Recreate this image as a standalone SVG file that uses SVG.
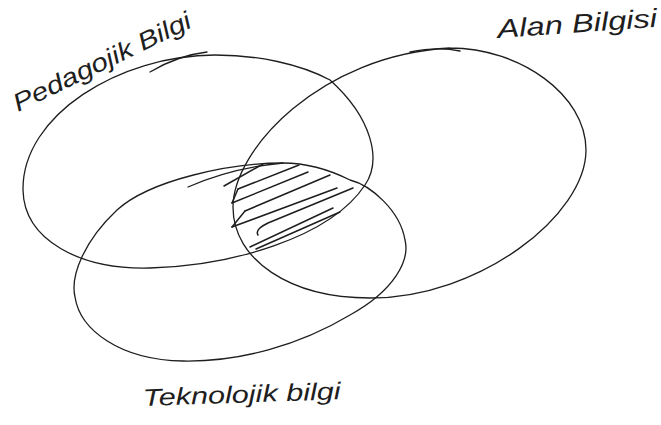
<svg xmlns="http://www.w3.org/2000/svg" width="661" height="425" viewBox="0 0 661 425">
<style>
.c{fill:none;stroke:#1e1e1e;stroke-width:1.3;stroke-linecap:round;stroke-linejoin:round}
.h{fill:none;stroke:#1e1e1e;stroke-width:1.5;stroke-linecap:round;stroke-linejoin:round}
.t{font-family:"Liberation Sans",Arial,sans-serif;font-style:italic;fill:#1e1e1e}
</style>
<rect width="661" height="425" fill="#ffffff"/>
<g id="pedagojik">
<path class="c" d="M 330,80 C 300,64 258,55 215,55 C 120,55 22,115 23,190 C 24,240 80,270 150,268 C 230,266 330,238 365,185 C 382,160 372,118 330,80"/>
<path class="c" d="M 150,72 C 170,60 190,54 207,52"/>
<text class="t" font-size="25" textLength="195" lengthAdjust="spacingAndGlyphs" transform="translate(18,112) rotate(-26)">Pedagojik Bilgi</text>
</g>
<g id="alan">
<path class="c" d="M 450,48 C 520,48 586,95 586,150 C 586,215 480,298 370,298 C 290,298 233,260 233,207 C 233,150 320,55 450,48"/>
<path class="c" d="M 410,52 C 425,49 445,48 460,51"/>
<text class="t" font-size="26" textLength="160" lengthAdjust="spacingAndGlyphs" transform="translate(498,38) rotate(-4)">Alan Bilgisi</text>
</g>
<g id="teknolojik">
<path class="c" d="M 283,163 C 230,163 150,180 117,210 C 85,240 70,275 75,297 C 80,330 120,360 183,361 C 240,362 300,345 350,315 C 395,290 410,260 405,240 C 400,210 370,185 350,180 C 330,170 305,163 283,163"/>
<path class="c" d="M 188,187 C 215,175 250,166 283,163"/>
<text class="t" font-size="24" textLength="198" lengthAdjust="spacingAndGlyphs" transform="translate(143,406) rotate(-2)">Teknolojik bilgi</text>
</g>
<g id="hatch">
<path class="h" d="M 224,186 L 263,164 M 238,189 L 299,165 M 232,203 L 308,172 M 245,211 L 330,175 M 232,227 L 337,188 M 258,235 C 255,230 262,226 268,223 L 353,188 M 250,247 L 333,208 M 256,249 L 340,212"/>
<path class="h" d="M 232,203 L 238,189 M 232,227 L 245,211"/>
</g>
</svg>
